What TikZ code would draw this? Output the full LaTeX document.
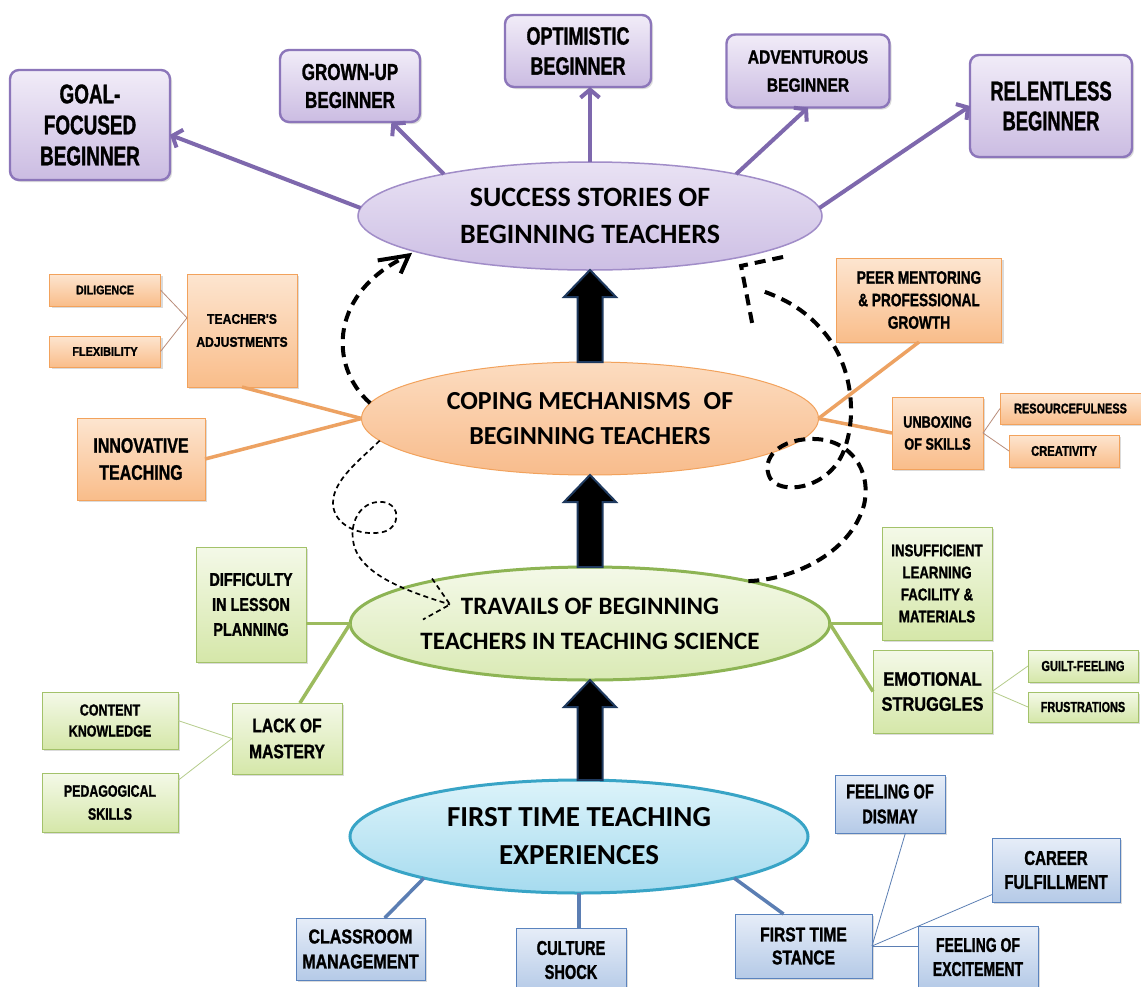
\documentclass[tikz,border=0pt]{standalone}
\usepackage{fontspec}
\usetikzlibrary{shapes.geometric,arrows.meta,calc,shadows}
\newfontfamily\ellfont{Carlito}
% condensed heavy lettering for the boxes: stretch, size, baselineskip
\newcommand\bx[3]{\fontspec{Liberation Sans}[FakeStretch=#1,FakeBold=1.2]\bfseries\fontsize{#2}{#3}\selectfont}
\newcommand\ef[2]{\ellfont\bfseries\fontsize{#1}{#2}\selectfont}

\definecolor{pBord}{HTML}{8C76BA}
\definecolor{pTop}{HTML}{F1ECF8}
\definecolor{pBot}{HTML}{CBBCE2}
\definecolor{pEllTop}{HTML}{E9E2F4}
\definecolor{pEllBot}{HTML}{CDBFE4}
\definecolor{pEllBord}{HTML}{A18DC8}
\definecolor{pLine}{HTML}{7E68AD}
\definecolor{oBord}{HTML}{F2A25C}
\definecolor{oTop}{HTML}{FDE5D0}
\definecolor{oBot}{HTML}{F9BD8A}
\definecolor{oEllTop}{HTML}{FCDCC0}
\definecolor{oEllBot}{HTML}{F8BC8C}
\definecolor{oLine}{HTML}{EDA262}
\definecolor{oThin}{HTML}{B98D7A}
\definecolor{gBord}{HTML}{A3C26A}
\definecolor{gTop}{HTML}{F4F9E8}
\definecolor{gBot}{HTML}{D5E7A9}
\definecolor{gEllTop}{HTML}{F4F9E8}
\definecolor{gEllBot}{HTML}{DAEAB5}
\definecolor{gEll}{HTML}{8DB454}
\definecolor{gLine}{HTML}{9CBB5E}
\definecolor{gThin}{HTML}{B5CC8A}
\definecolor{bBord}{HTML}{5A83BE}
\definecolor{bTop}{HTML}{E6EDF8}
\definecolor{bBot}{HTML}{B5CAE7}
\definecolor{bLine}{HTML}{5B7EB3}
\definecolor{cyBord}{HTML}{38A4C6}
\definecolor{cyTop}{HTML}{DCF3FA}
\definecolor{cyBot}{HTML}{A6DBEF}
\definecolor{navy}{HTML}{1F3A5F}

\tikzset{
  base/.style={inner sep=0pt, outer sep=0pt, align=center, text=black},
  sz/.style 2 args={minimum width=#1pt, minimum height=#2pt},
  shade/.style={drop shadow={shadow xshift=2pt, shadow yshift=-2pt, opacity=.28}},
  pbox/.style={base, rectangle, rounded corners=9pt, draw=pBord, line width=2.4pt,
    top color=pTop, bottom color=pBot, shade},
  obox/.style={base, rectangle, draw=oBord, line width=0.8pt,
    top color=oTop, bottom color=oBot, shade},
  gbox/.style={base, rectangle, draw=gBord, line width=0.8pt,
    top color=gTop, bottom color=gBot, shade},
  bbox/.style={base, rectangle, draw=bBord, line width=0.9pt,
    top color=bTop, bottom color=bBot, shade},
  ell/.style={base, ellipse},
  pArrow/.style={draw=pLine, line width=4pt, -{Straight Barb[length=8pt,width=19pt]}},
  oLink/.style={draw=oLine, line width=3.5pt},
  gLink/.style={draw=gLine, line width=3.5pt},
  bLink/.style={draw=bLine, line width=3.5pt},
  oFine/.style={draw=oThin, line width=0.8pt},
  gFine/.style={draw=gThin, line width=0.8pt},
  bFine/.style={draw=bLine, line width=0.8pt},
  blockarr/.style={fill=black, draw=navy, line width=2pt, line join=miter},
  bigdash/.style={draw=black, line width=4pt, dash pattern=on 11pt off 7pt},
  finedash/.style={draw=black, line width=1.7pt, dash pattern=on 5pt off 3.5pt},
}

\newcommand\blockup[2]{% shaft foot #1, tip #2
  \filldraw[blockarr] ($(#1)+(-12.5,0)$) -- ($(#2)+(-12.5,27)$) -- ($(#2)+(-26,27)$)
    -- (#2) -- ($(#2)+(26,27)$) -- ($(#2)+(12.5,27)$) -- ($(#1)+(12.5,0)$) -- cycle;}

\begin{document}
\begin{tikzpicture}[x=1pt, y=-1pt]
\useasboundingbox (0,0) rectangle (1141,986);
\fill[white] (0,0) rectangle (1141,986);

% ---- central chain of ellipses
\node[ell, draw=pEllBord, line width=1.5pt, top color=pEllTop, bottom color=pEllBot,
      sz={464}{108}, font={\ef{28}{37}}] (ss) at (590,216) {SUCCESS STORIES OF\\BEGINNING TEACHERS};
\node[ell, draw=oBord, line width=1pt, top color=oEllTop, bottom color=oEllBot,
      sz={457}{113}, font={\ef{26}{35}}] (co) at (590,418.5) {COPING MECHANISMS\enspace OF\\BEGINNING TEACHERS};
\node[ell, draw=gEll, line width=3pt, top color=gEllTop, bottom color=gEllBot,
      sz={456}{113}, font={\ef{25}{35}}] (tr) at (590,623.5) {TRAVAILS OF BEGINNING\\TEACHERS IN TEACHING SCIENCE};
\node[ell, draw=cyBord, line width=3pt, top color=cyTop, bottom color=cyBot,
      sz={458}{113}, font={\ef{29}{38}}] (fe) at (579,836.5) {FIRST TIME TEACHING\\EXPERIENCES};

% ---- purple outcomes
\node[pbox, sz={160}{110}, font={\bx{0.70}{27}{31}}] (goal) at (90,125) {GOAL-\\FOCUSED\\BEGINNER};
\node[pbox, sz={140}{72}, font={\bx{0.74}{23}{28}}] (gu) at (350,86) {GROWN-UP\\BEGINNER};
\node[pbox, sz={146}{72}, font={\bx{0.72}{25}{30}}] (opt) at (578,51) {OPTIMISTIC\\BEGINNER};
\node[pbox, sz={163}{73}, font={\bx{0.82}{19}{28}}] (adv) at (808,71) {ADVENTUROUS\\BEGINNER};
\node[pbox, sz={162}{102}, font={\bx{0.68}{27}{30}}] (rel) at (1051,106) {RELENTLESS\\BEGINNER};

% ---- orange coping mechanisms
\node[obox, sz={111}{32}, font={\bx{0.85}{12.5}{15}}] (dil) at (105,290) {DILIGENCE};
\node[obox, sz={111}{31}, font={\bx{0.87}{12.5}{15}}] (flx) at (105,351.5) {FLEXIBILITY};
\node[obox, sz={110}{113}, font={\bx{0.87}{14}{23}}] (ta) at (242,330.5) {TEACHER'S\\ADJUSTMENTS};
\node[obox, sz={128}{82}, font={\bx{0.76}{21}{27}}] (it) at (141,459) {INNOVATIVE\\TEACHING};
\node[obox, sz={165}{84}, font={\bx{0.76}{18}{22.5}}] (pm) at (919,300) {PEER MENTORING\\\& PROFESSIONAL\\GROWTH};
\node[obox, sz={91}{72}, font={\bx{0.77}{16.5}{22}}] (ub) at (937.5,433) {UNBOXING\\OF SKILLS};
\node[obox, sz={141}{31}, font={\bx{0.78}{14}{16}}] (rf) at (1070.5,408.5) {RESOURCEFULNESS};
\node[obox, sz={110}{32}, font={\bx{0.8}{14}{16}}] (cr) at (1064,451) {CREATIVITY};

% ---- green travails
\node[gbox, sz={110}{115}, font={\bx{0.78}{18.5}{25}}] (dl) at (251,604.5) {DIFFICULTY\\IN LESSON\\PLANNING};
\node[gbox, sz={110}{71}, font={\bx{0.8}{19.5}{26}}] (lm) at (287,738.5) {LACK OF\\MASTERY};
\node[gbox, sz={136}{57}, font={\bx{0.78}{16}{21}}] (ck) at (110,720.5) {CONTENT\\KNOWLEDGE};
\node[gbox, sz={136}{59}, font={\bx{0.75}{16.5}{23}}] (ps) at (110,802.5) {PEDAGOGICAL\\SKILLS};
\node[gbox, sz={110}{113}, font={\bx{0.78}{17}{22}}] (is) at (937,583.5) {INSUFFICIENT\\LEARNING\\FACILITY \&\\MATERIALS};
\node[gbox, sz={119}{83}, font={\bx{0.84}{19.5}{25}}] (es) at (932.5,691.5) {EMOTIONAL\\STRUGGLES};
\node[gbox, sz={110}{32}, font={\bx{0.76}{14.5}{16}}] (gf) at (1083,666) {GUILT-FEELING};
\node[gbox, sz={110}{30}, font={\bx{0.75}{14.5}{16}}] (fr) at (1083,707) {FRUSTRATIONS};

% ---- blue first experiences
\node[bbox, sz={129}{62}, font={\bx{0.8}{20}{25}}] (cm) at (360.5,949) {CLASSROOM\\MANAGEMENT};
\node[bbox, sz={110}{64}, font={\bx{0.73}{20}{24}}] (cs) at (571,960) {CULTURE\\SHOCK};
\node[bbox, sz={137}{64}, font={\bx{0.78}{20}{23}}] (fs) at (803.5,946) {FIRST TIME\\STANCE};
\node[bbox, sz={110}{58}, font={\bx{0.73}{20}{25}}] (dm) at (890,804) {FEELING OF\\DISMAY};
\node[bbox, sz={128}{64}, font={\bx{0.75}{20}{24}}] (cf) at (1056,870) {CAREER\\FULFILLMENT};
\node[bbox, sz={120}{62}, font={\bx{0.7}{20}{24}}] (ex) at (978,957) {FEELING OF\\EXCITEMENT};

% ---- block arrows up the chain
\blockup{co.north}{ss.south}
\blockup{tr.north}{co.south}
\coordinate (a3foot) at (tr.south |- fe.north);
\blockup{a3foot}{tr.south}

% ---- purple arrows to the outcomes
\draw[pArrow] (ss.178) -- (goal.-7);
\draw[pArrow] (ss.164) -- (gu.-41);
\draw[pArrow] (ss.north) -- (ss.north |- opt.south);
\draw[pArrow] (ss.16) -- (adv.south);
\draw[pArrow] (ss.2) -- (rel.west);

% ---- orange links
\draw[oLink] (co.west) -- (ta.south);
\draw[oLink] (co.west) -- (it.east);
\draw[oLink] (co.east) -- (pm.south);
\draw[oLink] (co.east) -- (ub.west);
\draw[oFine] (dil.east) -- (ta.167.5);
\draw[oFine] (flx.east) -- (ta.167.5);
\draw[oFine] (ub.east) -- (rf.west);
\draw[oFine] (ub.east) -- (cr.west);

% ---- green links
\draw[gLink] (tr.west) -- (tr.west -| dl.east);
\draw[gLink] (tr.west) -- (lm.70);
\draw[gLink] (tr.east) -- (tr.east -| is.west);
\draw[gLink] (tr.east) -- (es.west);
\draw[gFine] (lm.west) -- (ck.east);
\draw[gFine] (lm.west) -- (ps.18);
\draw[gFine] (es.east) -- (gf.west);
\draw[gFine] (es.east) -- (fr.west);

% ---- blue links
\draw[bLink] (fe.195) -- (cm.52);
\draw[bLink] (fe.south) -- (fe.south |- cs.north);
\draw[bLink] (fe.-15.7) -- (fs.122.6);
\draw[bFine] (fs.east) -- (dm.-62.6);
\draw[bFine] (fs.east) -- (cf.201);
\draw[bFine] (fs.east) -- (fs.east -| ex.west);

% ---- dashed feedback paths
\coordinate (tipA) at ($(ss.192)+(-10,3)$);
\draw[bigdash] (co.176) .. controls +(-43,-38) and +(-78,35) .. (tipA);
\draw[black, line width=4pt, line cap=butt] ($(tipA)+(-31,5)$) -- (tipA) -- ($(tipA)+(-8,18)$);

\coordinate (tipB) at ($(ss.-18)+(16,6)$);
\draw[bigdash] (tr.15) .. controls (790,580) and (850,555) .. (864,505)
  .. controls (872,470) and (850,440) .. (815,439)
  .. controls (780,438) and (760,458) .. (770,478)
  .. controls (780,495) and (825,490) .. (842,455)
  .. controls (858,420) and (852,370) .. (830,340)
  .. controls (812,315) and (790,300) .. ($(tipB)+(18,24)$);
\draw[bigdash] ($(tipB)+(11,57)$) -- (tipB) -- ($(tipB)+(47,-10)$);

\coordinate (tipC) at ($(tr.center)+(-140,-19)$);
\draw[finedash] (co.186.8) .. controls (360,460) and (333,480) .. (333,503)
  .. controls (333,525) and (360,537) .. (383,532)
  .. controls (400,528) and (402,505) .. (383,502)
  .. controls (362,500) and (350,520) .. (353,540)
  .. controls (357,575) and (410,592) .. (tipC);
\draw[finedash] ($(tipC)+(-18,-26)$) -- (tipC) -- ($(tipC)+(-27,15)$);
\end{tikzpicture}
\end{document}
